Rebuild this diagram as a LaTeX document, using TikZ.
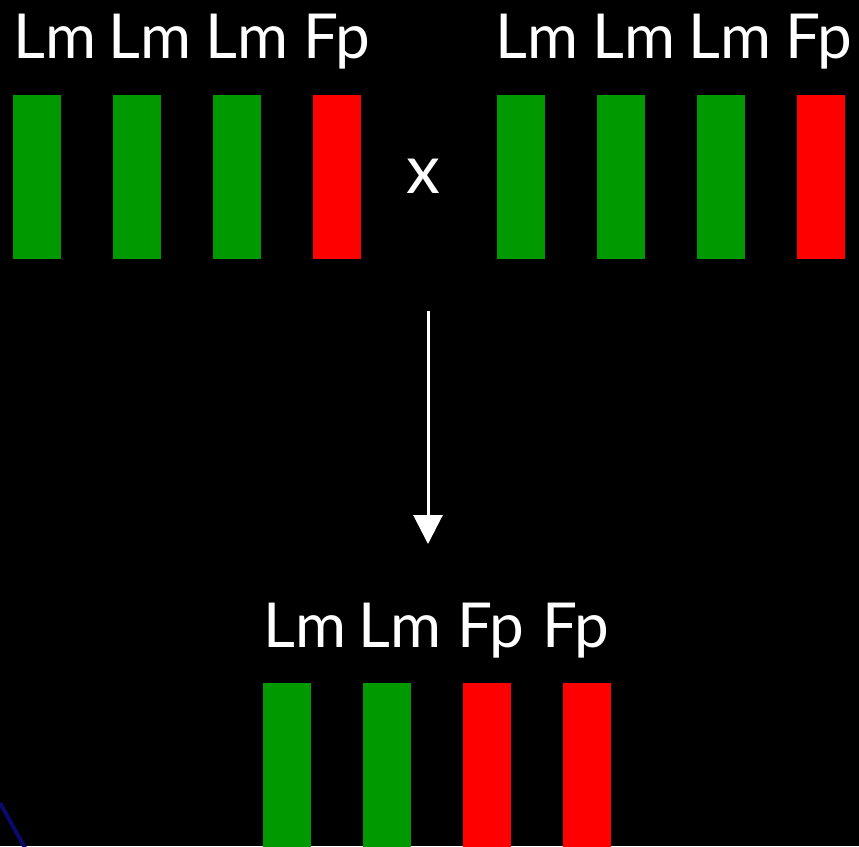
\documentclass[tikz,border=0pt]{standalone}
\usepackage{fontspec}
\setmainfont{Lato}
\usetikzlibrary{arrows.meta}
\definecolor{gcol}{RGB}{0,153,0}
\definecolor{rcol}{RGB}{255,0,0}
\definecolor{ncol}{RGB}{10,10,110}
\begin{document}
\begin{tikzpicture}[x=1pt,y=-1pt,
  bar/.style={minimum width=48pt,minimum height=164pt,inner sep=0pt,outer sep=0pt},
  gbar/.style={bar,fill=gcol},
  rbar/.style={bar,fill=rcol},
  lab/.style={text=white,font=\fontsize{62}{64}\selectfont,anchor=base,inner sep=0pt}]
\fill[black] (0,0) rectangle (859,846);
\useasboundingbox (0,0) rectangle (859,846);
% top left group
\node[gbar] (a1) at (37,177) {};
\node[gbar] (a2) at (137,177) {};
\node[gbar] (a3) at (237,177) {};
\node[rbar] (a4) at (337,177) {};
\node[lab] (la1) at (55,58) {Lm};
\node[lab] (la2) at (150,58) {Lm};
\node[lab] (la3) at (247,58) {Lm};
\node[lab] (la4) at (337,58) {Fp};
% top right group
\node[gbar] (b1) at (521,177) {};
\node[gbar] (b2) at (621,177) {};
\node[gbar] (b3) at (721,177) {};
\node[rbar] (b4) at (821,177) {};
\node[lab] (lb1) at (537,58) {Lm};
\node[lab] (lb2) at (634,58) {Lm};
\node[lab] (lb3) at (730,58) {Lm};
\node[lab] (lb4) at (819,58) {Fp};
% cross
\node[text=white,font=\fontsize{68}{70}\selectfont,inner sep=0pt] (x) at (423,176) {x};
% bottom group
\node[gbar] (c1) at (287,765) {};
\node[gbar] (c2) at (387,765) {};
\node[rbar] (c3) at (487,765) {};
\node[rbar] (c4) at (587,765) {};
\node[lab] (lc1) at (305,647) {Lm};
\node[lab] (lc2) at (400,647) {Lm};
\node[lab] (lc3) at (491,647) {Fp};
\node[lab] (lc4) at (576,647) {Fp};
% arrow
\coordinate (s) at (428,311);
\coordinate (e) at (428,544);
\draw[white,line width=3pt,-{Triangle[width=29pt,length=29pt]}] (s) -- (e);
% blue stroke
\coordinate (u1) at (0,803);
\coordinate (u2) at (25,848);
\draw[ncol,line width=4pt] (u1) -- (u2);
\end{tikzpicture}
\end{document}
